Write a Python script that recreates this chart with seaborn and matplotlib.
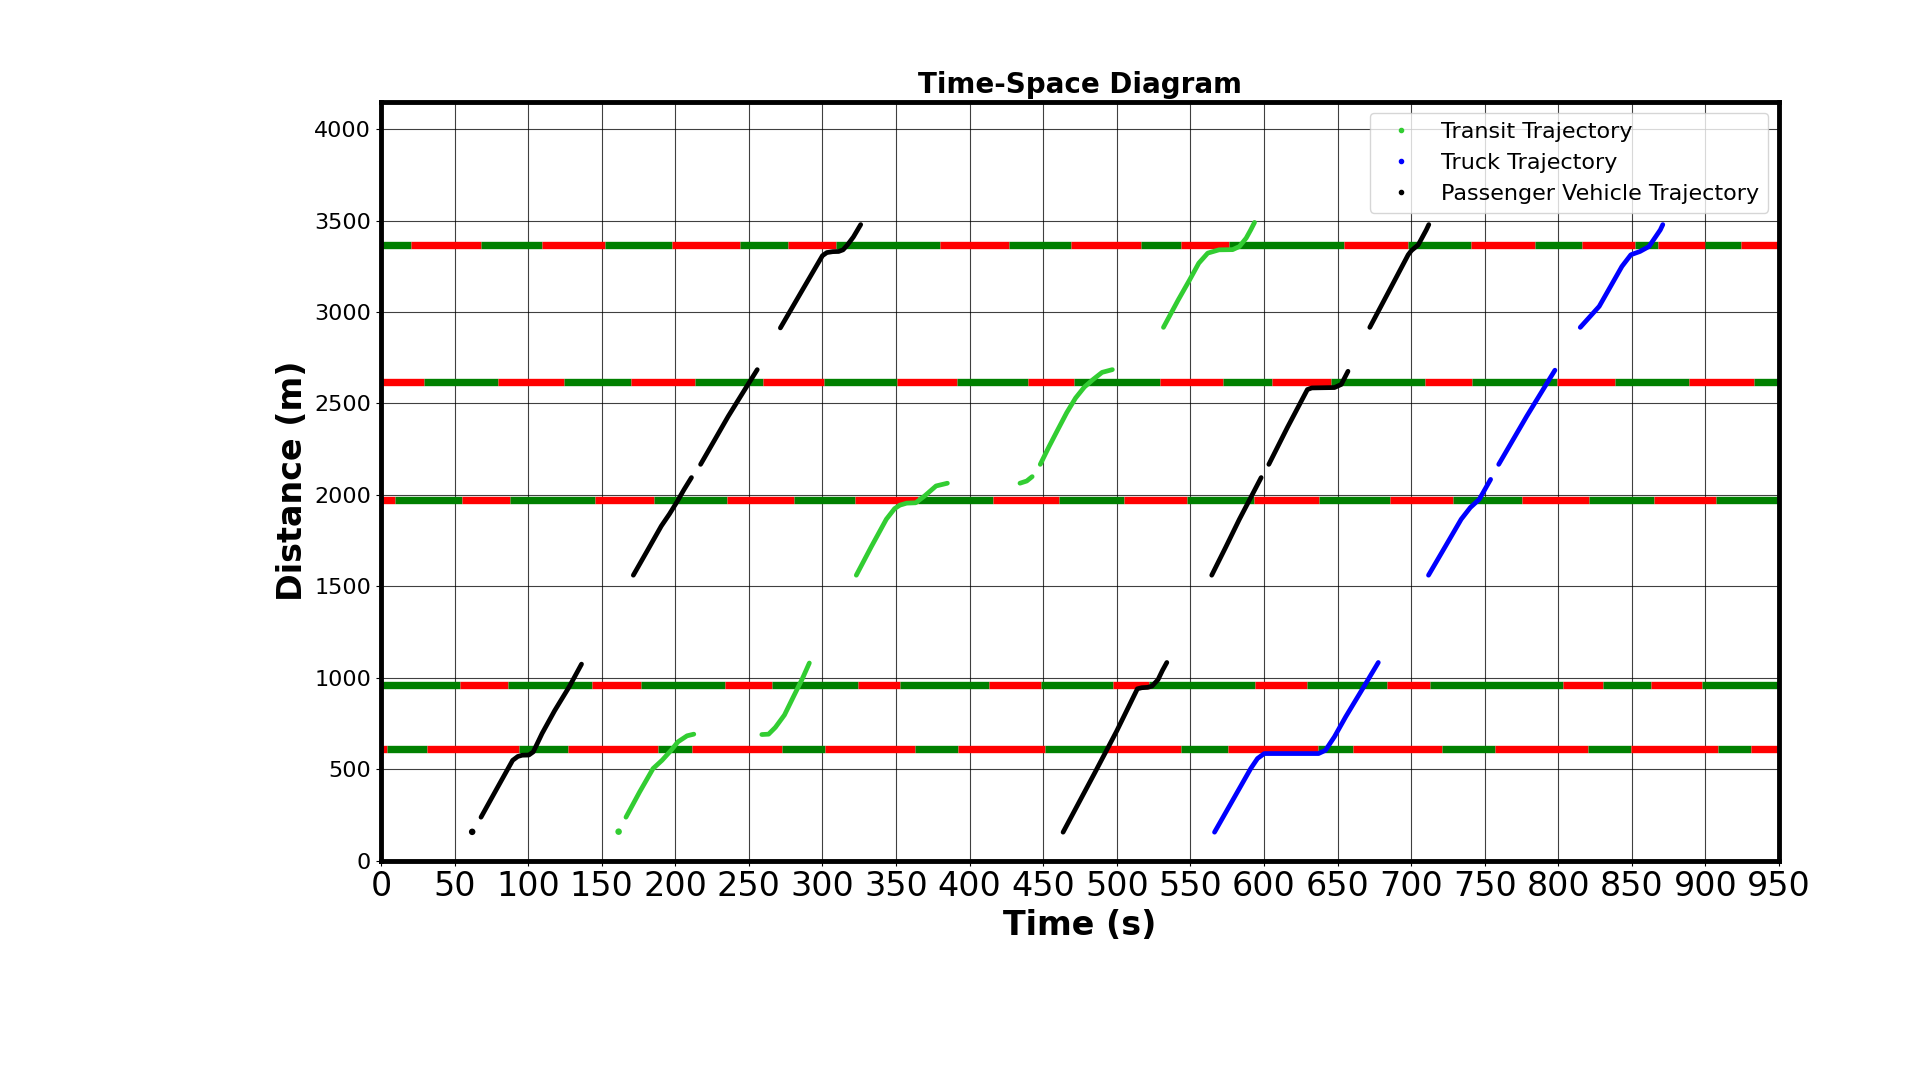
import numpy as np
import pandas as pd
import matplotlib
matplotlib.use('Agg')
import matplotlib.pyplot as plt
from matplotlib.lines import Line2D
import seaborn as sns

sns.set_style("white")
plt.rcParams['font.family'] = ['DejaVu Sans']
plt.rcParams.update({
    'text.color': 'black', 'axes.labelcolor': 'black',
    'xtick.color': 'black', 'ytick.color': 'black',
    'xtick.bottom': True, 'ytick.left': True,
    'xtick.major.size': 3.5, 'ytick.major.size': 3.5,
    'xtick.major.width': 0.8, 'ytick.major.width': 0.8,
})

# ---- signal timing: location (m), colour of first phase, phase change times (s)
signal_pos = [610, 963, 1970, 2616, 3364]
signal_first = ['red', 'green', 'red', 'red', 'green']
signal_changes = [
    [4.3, 31.4, 93.8, 127.4, 188, 211.1, 272.3, 301.5, 362.8, 392, 451.4, 492.6,
     543.4, 575.6, 636.5, 660.5, 721.1, 757.1, 820.1, 849.6, 908.7, 931.1],
    [53.5, 86.5, 143.4, 176.9, 233.8, 265.5, 324.3, 352.9, 413.5, 448.3, 497.5,
     521.8, 594.1, 629.5, 683.9, 712.5, 803.2, 830.6, 862.9, 897.6],
    [9.8, 54.8, 87.4, 145.2, 185.8, 235, 280.6, 321.8, 365, 416, 460.6, 505,
     547.7, 592.9, 637.5, 685.7, 728.2, 775.5, 821, 865.3, 907.1],
    [29.2, 79.4, 124.6, 169.8, 213.5, 259.7, 301.2, 350.5, 391.7, 439.4, 471.1,
     529.5, 572, 605.2, 645.8, 709.1, 741.1, 799.2, 838.3, 888.7, 932.7],
    [20.3, 68, 109.5, 152.3, 198, 244, 276.3, 309.2, 379.7, 426.8, 469, 516.3,
     543.7, 576.3, 654.4, 698, 740.5, 784.4, 816.1, 852.4, 867.8, 900, 924.3],
]
t_end = 950

# ---- trajectories (time s, distance m), one list pair per recorded piece
transit_t = [
    [161.5],
    [166.5, 175.7, 184.9, 191, 197.2, 201.8, 208, 212.6],
    [258.8, 263.4, 268, 274.2, 280.3, 286.5, 291.1],
    [323, 333, 343.4, 349, 352.6, 357.2, 363.4, 369.5, 377.2, 384.9],
    [434.2, 438.8, 442.5],
    [448, 454, 460, 466, 472, 478, 484, 490, 497],
    [531.7, 541.8, 549.5, 555.7, 561.8, 569.5, 578.7, 583.3, 587.9, 591, 593.6],
]
transit_d = [
    [159],
    [238, 375, 504, 549, 604, 650, 683, 692],
    [690, 692, 729, 797, 897, 998, 1081],
    [1561, 1714, 1867, 1925, 1944, 1955, 1957, 1995, 2049, 2064],
    [2064, 2076, 2100],
    [2167, 2265, 2358, 2450, 2530, 2590, 2632, 2670, 2685],
    [2916, 3067, 3176, 3267, 3322, 3340, 3341, 3358, 3404, 3449, 3490],
]

truck_t = [
    [566.4, 578.7, 591, 595.6, 600.2, 637.1, 641.8, 647.9, 655.6, 667.9, 677.7],
    [711.8, 723, 734, 740.2, 746.3, 754],
    [759.5, 778.6, 797.7],
    [814.9, 827.8, 835.5, 843.2, 849.3, 855.5, 861.6, 869.3, 871],
]
truck_d = [
    [156, 330, 504, 559, 586, 586, 604, 678, 788, 952, 1084],
    [1561, 1715, 1867, 1931, 1976, 2085],
    [2167, 2431, 2682],
    [2916, 3031, 3140, 3249, 3313, 3331, 3358, 3449, 3478],
]

pv_t = [
    [62],
    [68, 80, 89.5, 93, 96, 100.5, 103.5, 109.5, 118, 128, 136.3],
    [171.5, 181, 190.5, 196, 201, 206, 211],
    [217.2, 226, 236, 246, 255.7],
    [271.4, 286, 300, 303, 307, 311, 314, 317, 321, 326],
    [463.5, 485, 500, 514, 517, 521, 524, 528, 531, 534],
    [564.5, 574, 583.3, 598.1],
    [603.3, 616, 629.5, 632.5, 640, 647.9, 652.5, 657.1],
    [671.9, 685, 698, 700.2, 704.8, 710.3, 712],
]
pv_d = [
    [158],
    [238, 412, 549, 570, 577, 578, 595, 696, 820, 952, 1075],
    [1561, 1695, 1830, 1895, 1960, 2030, 2095],
    [2167, 2290, 2430, 2560, 2685],
    [2913, 3115, 3308, 3325, 3330, 3331, 3340, 3367, 3410, 3478],
    [156, 480, 710, 940, 946, 948, 955, 990, 1040, 1084],
    [1561, 1714, 1867, 2095],
    [2167, 2370, 2576, 2585, 2586, 2587, 2604, 2676],
    [2916, 3115, 3313, 3336, 3367, 3449, 3478],
]

kinds = ['Transit Trajectory', 'Truck Trajectory', 'Passenger Vehicle Trajectory']
palette = {'Transit Trajectory': 'limegreen',
           'Truck Trajectory': 'blue',
           'Passenger Vehicle Trajectory': 'black'}

rows = []
for kind, ts, ds in zip(kinds, [transit_t, truck_t, pv_t], [transit_d, truck_d, pv_d]):
    for i, (t, d) in enumerate(zip(ts, ds)):
        for tt, dd in zip(t, d):
            rows.append({'t': tt, 'd': dd, 'kind': kind, 'seg': f'{kind}-{i}', 'n': len(t)})
df = pd.DataFrame(rows)

fig = plt.figure(figsize=(19.2, 10.77), dpi=100)
ax = fig.add_axes([0.1984, 0.2008, 0.7282, 0.7048])

# signal bars
for pos, first, changes in zip(signal_pos, signal_first, signal_changes):
    edges = [0] + changes + [t_end]
    other = 'red' if first == 'green' else 'green'
    for k in range(len(edges) - 1):
        col = first if k % 2 == 0 else other
        ax.hlines(pos, edges[k], edges[k + 1], colors=col, linewidth=5.3, zorder=2)

# trajectories
lines = df[df['n'] > 1]
sns.lineplot(data=lines, x='t', y='d', hue='kind', units='seg', estimator=None,
             sort=False, palette=palette, linewidth=3.4, legend=False, ax=ax,
             solid_capstyle='round', zorder=3)
dots = df[df['n'] == 1]
sns.scatterplot(data=dots, x='t', y='d', hue='kind', palette=palette, s=22,
                edgecolor='none', legend=False, ax=ax, zorder=3)

ax.set_xlim(0, 950)
ax.set_ylim(0, 4150)
ax.set_xticks(np.arange(0, 951, 50))
ax.set_yticks(np.arange(0, 4001, 500))
ax.tick_params(axis='x', labelsize=24, colors='black')
ax.tick_params(axis='y', labelsize=16, colors='black')
ax.grid(True, color='black', linewidth=0.8, alpha=0.75)
ax.set_axisbelow(True)
for sp in ax.spines.values():
    sp.set_visible(True)
    sp.set_linewidth(3.5)
    sp.set_color('black')

ax.set_xlabel('Time (s)', fontsize=24, fontweight='bold', color='black')
ax.set_ylabel('Distance (m)', fontsize=24, fontweight='bold', color='black')
ax.set_title('Time-Space Diagram', fontsize=20, fontweight='bold', color='black')

handles = [Line2D([], [], linestyle='none', marker='.', markersize=6,
                  color=palette[k], label=k) for k in kinds]
leg = ax.legend(handles=handles, loc='upper right', fontsize=16, frameon=True)
for txt in leg.get_texts():
    txt.set_color('black')

fig.savefig('out.png', dpi=100)
